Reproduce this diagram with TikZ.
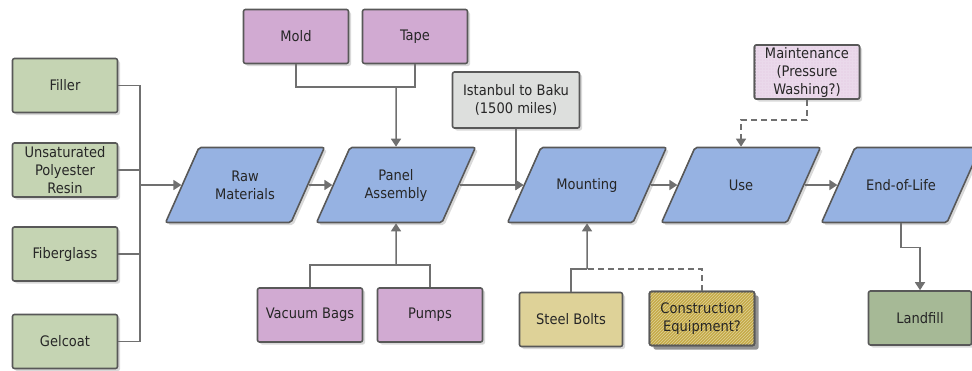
\documentclass[tikz,border=0pt]{standalone}
\usepackage{fontspec}
\setmainfont{DejaVu Sans Condensed}
\usepackage{tikz}
\usetikzlibrary{arrows.meta, positioning, calc, shapes.geometric, shadows, patterns}
\definecolor{garis}{RGB}{112,112,112}
\definecolor{tepi}{RGB}{88,88,88}
\definecolor{hijau}{RGB}{197,212,179}
\definecolor{ungu}{RGB}{209,170,210}
\definecolor{biru}{RGB}{150,178,226}
\definecolor{abu}{RGB}{221,223,221}
\definecolor{krem}{RGB}{222,210,152}
\definecolor{emas}{RGB}{198,170,72}
\definecolor{hijautua}{RGB}{166,185,150}
\definecolor{ungumuda}{RGB}{232,212,232}
\newcommand\isitahap[1]{\parbox[c][61pt][c]{80pt}{\centering #1}}

\begin{document}
\begin{tikzpicture}[
    x=1pt, y=-1pt,
    font=\fontsize{14.5}{18}\selectfont,
    kotak/.style={draw=tepi, line width=1.6pt, rounded corners=2pt, align=center,
                  inner sep=1pt, minimum height=54pt, text=black!85,
                  drop shadow={shadow xshift=2.5pt, shadow yshift=-2.5pt, fill=black, opacity=0.15}},
    bahan/.style={kotak, fill=hijau, minimum width=105pt},
    alat/.style={kotak, fill=ungu, minimum width=105pt},
    tahap/.style={kotak, trapezium, trapezium left angle=66, trapezium right angle=114,
                  fill=biru, inner xsep=6pt, inner ysep=7pt, minimum height=0pt},
    corak/.style={postaction={pattern=#1}, postaction={draw=tepi, line width=1.6pt}},
    panah/.style={-{Triangle[length=8pt, width=10pt]}, garis, line width=1.5pt},
    sambung/.style={garis, line width=1.5pt}
  ]
    \useasboundingbox (0,0) rectangle (972,370);

    \node[bahan] (filler) at (65,85.5)  {Filler};
    \node[bahan] (resin)  at (65,170)   {Unsaturated\\Polyester\\Resin};
    \node[bahan] (fiber)  at (65,254)   {Fiberglass};
    \node[bahan] (gel)    at (65,341.5) {Gelcoat};

    \node[tahap] (raw)   at (245,185) {\isitahap{Raw\\Materials}};
    \node[tahap] (panel) at (396,185) {\isitahap{Panel\\Assembly}};
    \node[tahap] (mount) at (587,185) {\isitahap{Mounting}};
    \node[tahap] (use)   at (741,185) {\isitahap{Use}};
    \node[tahap] (eol)   at (901,185) {\isitahap{End-of-Life}};

    \node[alat] (mold)  at (296,36.5) {Mold};
    \node[alat] (tape)  at (415,36.5) {Tape};
    \node[alat] (vac)   at (310,315)  {Vacuum Bags};
    \node[alat] (pumps) at (430,315)  {Pumps};

    \node[kotak, fill=abu, minimum width=127pt, minimum height=56pt] (ist) at (516,100)
      {Istanbul to Baku\\(1500 miles)};
    \node[kotak, fill=ungumuda, minimum width=105pt, pattern color=white!55!ungu, corak=grid]
      (maint) at (807,72) {Maintenance\\(Pressure\\Washing?)};
    \node[kotak, fill=krem, minimum width=103pt] (bolts) at (571,319.5) {Steel Bolts};
    \node[kotak, fill=emas, minimum width=105pt,
          drop shadow={shadow xshift=4pt, shadow yshift=-4pt, fill=gray!85, opacity=1},
          pattern color=krem, corak=north east lines]
      (constr) at (702,318.5) {Construction\\Equipment?};
    \node[kotak, fill=hijautua, minimum width=103pt] (land) at (920,318) {Landfill};

    \coordinate (bus) at (140,185);
    \foreach \n in {filler,resin,fiber,gel} \draw[sambung] (\n.east) -| (bus);
    \draw[panah] (bus) -- (raw.west);
    \draw[panah] (raw.east) -- (panel.west);
    \draw[panah] (panel.east) -- (mount.west);
    \draw[panah] (ist.south) |- (mount.west);
    \draw[panah] (mount.east) -- (use.west);
    \draw[panah] (use.east) -- (eol.west);

    \coordinate (atas) at (396,87);
    \foreach \n in {mold,tape} \draw[sambung] (\n.south) |- (atas);
    \draw[panah] (atas) -- (panel.north);

    \coordinate (bawah) at (396,265);
    \foreach \n in {vac,pumps} \draw[sambung] (\n.north) |- (bawah);
    \draw[panah] (bawah) -- (panel.south);

    \coordinate (pasang) at (587,269);
    \draw[sambung] (bolts.north) |- (pasang);
    \draw[sambung, dashed, dash pattern=on 6pt off 4pt] (constr.north) |- (pasang);
    \draw[panah] (pasang) -- (mount.south);

    \draw[panah, dashed, dash pattern=on 6pt off 4pt] (maint.south) -- ++(0,20) -| (use.north);
    \draw[panah] (eol.south) -- ++(0,24) -| (land.north);
  \end{tikzpicture}
\end{document}
